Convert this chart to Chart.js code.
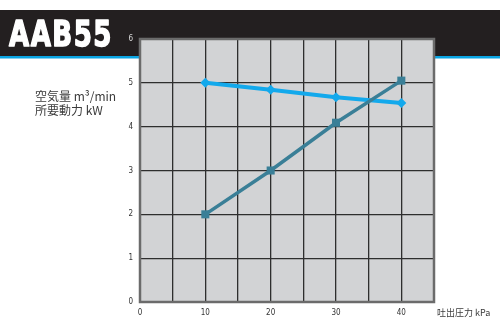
<!DOCTYPE html>
<html lang="ja">
<head>
<meta charset="UTF-8">
<title>AAB55</title>
<script src="https://cdn.jsdelivr.net/npm/chart.js"></script>
<style>
    body { margin: 0; padding: 0; background: #ffffff; overflow: hidden; }
    #wrap { width: 500px; height: 323px; position: relative; }
</style>
</head>
<body>
<div id="wrap">
    <canvas id="myChart" width="500" height="323"></canvas>
</div>
<script>
    // Data
    const pressure = [10, 20, 30, 40];            // 吐出圧力 kPa
    const airFlow = [5.0, 4.84, 4.67, 4.54];      // 空気量 m³/min
    const power = [2.0, 3.0, 4.09, 5.05];         // 所要動力 kW
    const xTicks = [0, 10, 20, 30, 40];
    const yTicks = [0, 1, 2, 3, 4, 5, 6];

    const modelName = "AAB55";
    const seriesLabels = ["空気量 m³/min", "所要動力 kW"];
    const xTitle = "吐出圧力 kPa";

    // background band, title, plot fill and border
    const decor = {
        id: "decor",
        beforeDraw(chart) {
            const ctx = chart.ctx;
            const a = chart.chartArea;
            ctx.save();
            ctx.fillStyle = "#231f20";
            ctx.fillRect(0, 10, 500, 46);
            ctx.fillStyle = "#0aa5e3";
            ctx.fillRect(0, 56, 500, 2.5);

            // title, heavy condensed look
            ctx.font = "bold 35px 'DejaVu Sans'";
            ctx.letterSpacing = "2px";
            ctx.textBaseline = "alphabetic";
            ctx.fillStyle = "#ffffff";
            ctx.strokeStyle = "#ffffff";
            ctx.lineWidth = 1.6;
            ctx.lineJoin = "round";
            const w = ctx.measureText(modelName).width;
            ctx.translate(9, 46);
            ctx.scale(104 / w, 1);
            ctx.fillText(modelName, 0, 0);
            ctx.strokeText(modelName, 0, 0);
            ctx.restore();

            ctx.save();
            ctx.fillStyle = "#d2d3d5";
            ctx.fillRect(a.left, a.top, a.right - a.left, a.bottom - a.top);

            // series labels
            ctx.fillStyle = "#3a3a3a";
            ctx.font = "12px 'Noto Sans CJK JP'";
            ctx.textBaseline = "middle";
            ctx.fillText(seriesLabels[0], 35, 96);
            ctx.fillText(seriesLabels[1], 35, 110);

            // x axis title
            ctx.font = "9px 'Noto Sans CJK JP'";
            ctx.fillText(xTitle, 437, 313);
            ctx.restore();
        },
        afterDatasetsDraw(chart) {
            const ctx = chart.ctx;
            const a = chart.chartArea;
            ctx.save();
            ctx.strokeStyle = "#6b6b6b";
            ctx.lineWidth = 2.5;
            ctx.strokeRect(a.left, a.top, a.right - a.left, a.bottom - a.top);
            ctx.restore();
        }
    };

    const ctx = document.getElementById("myChart").getContext("2d");
    new Chart(ctx, {
        type: "line",
        data: {
            datasets: [
                {
                    label: seriesLabels[1],
                    data: pressure.map((p, i) => ({ x: p, y: power[i] })),
                    borderColor: "#3a7f97",
                    backgroundColor: "#3a7f97",
                    borderWidth: 3.5,
                    pointStyle: "rect",
                    pointRadius: 5.7,
                    pointBorderWidth: 0,
                    tension: 0
                },
                {
                    label: seriesLabels[0],
                    data: pressure.map((p, i) => ({ x: p, y: airFlow[i] })),
                    borderColor: "#13a9ec",
                    backgroundColor: "#13a9ec",
                    borderWidth: 4,
                    pointStyle: "rectRot",
                    pointRadius: 5,
                    pointBorderWidth: 0,
                    tension: 0
                }
            ]
        },
        options: {
            responsive: false,
            animation: false,
            layout: { padding: { left: 0, right: 66, top: 39, bottom: 0 } },
            plugins: {
                legend: { display: false },
                tooltip: { enabled: false }
            },
            scales: {
                x: {
                    type: "linear",
                    min: 0,
                    max: 45,
                    afterFit(scale) { scale.height = 21; },
                    grid: { color: "#2e2e2e", lineWidth: 1.3, drawTicks: false },
                    border: { display: false },
                    ticks: {
                        stepSize: 5,
                        padding: 6,
                        color: "#333333",
                        font: { size: 8, family: "'DejaVu Sans Condensed', 'DejaVu Sans'" },
                        callback: v => xTicks.includes(v) ? String(v) : ""
                    }
                },
                y: {
                    min: 0,
                    max: 6,
                    afterFit(scale) { scale.width = 140; },
                    grid: { color: "#2e2e2e", lineWidth: 1.3, drawTicks: false },
                    border: { display: false },
                    ticks: {
                        stepSize: 1,
                        padding: 7,
                        // the top label sits on the dark band
                        color: c => (c.tick && c.tick.value === 6) ? "#d8d8d8" : "#333333",
                        font: { size: 8, family: "'DejaVu Sans Condensed', 'DejaVu Sans'" },
                        callback: v => yTicks.includes(v) ? String(v) : ""
                    }
                }
            }
        },
        plugins: [decor]
    });
</script>
</body>
</html>
